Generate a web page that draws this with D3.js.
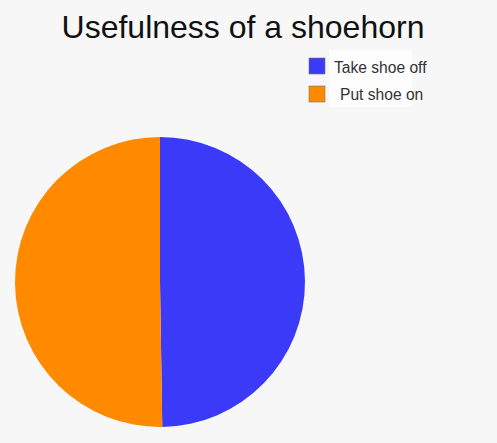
<!DOCTYPE html>
<html>
<head>
<meta charset="utf-8">
<script src="https://cdn.jsdelivr.net/npm/d3@7"></script>
<style>
  html, body { margin: 0; padding: 0; background: #f7f7f7; }
  svg { display: block; }
</style>
</head>
<body>
<script>
const categories = ['Take shoe off', 'Put shoe on'];
const values = [49.75, 50.25];
const colors = ['#3a3af8', '#ff8a00'];

const width = 497;
const height = 443;

const svg = d3.select('body').append('svg').attr('width', width).attr('height', height);

svg.append('rect').attr('width', width).attr('height', height).attr('fill', '#f7f7f7');

svg.append('text')
  .attr('x', 243)
  .attr('y', 38)
  .attr('text-anchor', 'middle')
  .attr('font-family', 'Liberation Sans, Arial, sans-serif')
  .attr('font-size', 32)
  .attr('fill', '#111')
  .text('Usefulness of a shoehorn');

const data = categories.map(function(c, i) { return { name: c, value: values[i] }; });

const pie = d3.pie().sort(null).value(function(d) { return d.value; });
const arc = d3.arc().innerRadius(0).outerRadius(145);
const color = d3.scaleOrdinal().domain(categories).range(colors);

svg.append('g')
  .attr('transform', 'translate(160,282)')
  .selectAll('path')
  .data(pie(data))
  .enter()
  .append('path')
  .attr('d', arc)
  .attr('fill', function(d) { return color(d.data.name); });

// legend
const legend = svg.append('g');
legend.append('rect')
  .attr('x', 329).attr('y', 50).attr('width', 83).attr('height', 57)
  .attr('fill', '#fdfdfd');

const items = legend.selectAll('g.item')
  .data(categories)
  .enter()
  .append('g')
  .attr('class', 'item')
  .attr('transform', function(d, i) { return 'translate(309,' + (58 + i * 28) + ')'; });

items.append('rect')
  .attr('width', 16).attr('height', 16)
  .attr('fill', function(d) { return color(d); })
  .attr('stroke', '#777').attr('stroke-width', 0.6);

items.append('text')
  .attr('x', function(d, i) { return i === 0 ? 25 : 31; })
  .attr('y', function(d, i) { return i === 0 ? 15 : 14; })
  .attr('font-family', 'Liberation Sans, Arial, sans-serif')
  .attr('font-size', 15.6)
  .attr('fill', '#333')
  .text(function(d) { return d; });
</script>
</body>
</html>
